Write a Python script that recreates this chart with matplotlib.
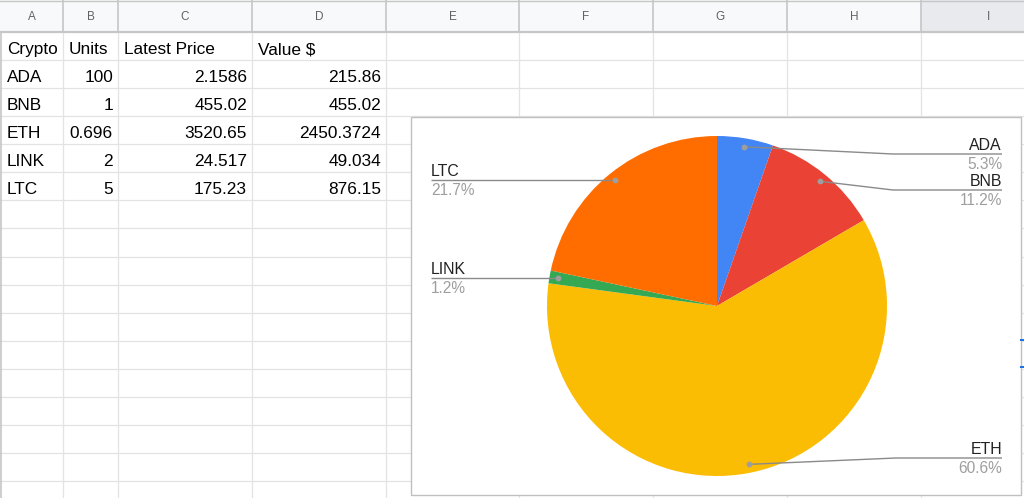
import numpy as np
import matplotlib
matplotlib.use("Agg")
import matplotlib.pyplot as plt
from matplotlib.patches import Rectangle

plt.rcParams['font.family'] = ['Liberation Sans', 'DejaVu Sans']

# sheet data
headers = ["Crypto", "Units", "Latest Price", "Value $"]
cryptos = ["ADA", "BNB", "ETH", "LINK", "LTC"]
units = ["100", "1", "0.696", "2", "5"]
prices = ["2.1586", "455.02", "3520.65", "24.517", "175.23"]
values = [215.86, 455.02, 2450.3724, 49.034, 876.15]
col_letters = ["A", "B", "C", "D", "E", "F", "G", "H", "I"]
pie_colors = ["#4285f4", "#ea4335", "#fbbc04", "#34a853", "#ff6d01"]

# layout (pixels)
col_edges = [1, 63, 118, 252, 386, 519, 653, 787, 921, 1055]
header_h = 32
row_h = 28.07
W, H = 1024, 498

fig = plt.figure(figsize=(W / 100, H / 100), dpi=100)
ax = fig.add_axes([0, 0, 1, 1])

# header row
ax.add_patch(Rectangle((0, 0), W, header_h, facecolor="#f8f9fa", edgecolor="none", zorder=1))
ax.add_patch(Rectangle((col_edges[8], 0), W - col_edges[8], header_h, facecolor="#e8eaed",
                       edgecolor="none", zorder=1))
for i, letter in enumerate(col_letters):
    xc = (col_edges[i] + min(col_edges[i + 1], W + 130)) / 2
    ax.text(xc, 16.5, letter, ha="center", va="center", fontsize=8.5, color="#5f6368", zorder=3)
for x in col_edges[1:]:
    ax.plot([x, x], [0, header_h], color="#c4c7c5", lw=1.2, zorder=2)
ax.plot([0, W], [header_h, header_h], color="#c4c7c5", lw=1.6, zorder=2)
ax.plot([0, W], [0.5, 0.5], color="#c4c7c5", lw=1.0, zorder=2)

# cell grid
row_lines = header_h + row_h * np.arange(1, 18)
for y in row_lines:
    ax.plot([0, W], [y, y], color="#e2e3e3", lw=0.9, zorder=1)
for x in col_edges[1:]:
    ax.plot([x, x], [header_h, H], color="#e2e3e3", lw=0.9, zorder=1)
ax.plot([1, 1], [header_h, H], color="#c4c7c5", lw=1.2, zorder=2)

# cell text
cell_fs = 12.4
text_cols = [cryptos, units, prices, [f"{v}" for v in values]]
for j, h in enumerate(headers):
    ax.text(col_edges[j] + 6, header_h + row_h - 6, h, ha="left", va="baseline",
            fontsize=cell_fs, color="#000000", zorder=3)
for i in range(len(cryptos)):
    base = header_h + row_h * (i + 2) - 6
    ax.text(col_edges[0] + 6, base, text_cols[0][i], ha="left", va="baseline",
            fontsize=cell_fs, color="#000000", zorder=3)
    for j in range(1, 4):
        ax.text(col_edges[j + 1] - 5, base, text_cols[j][i], ha="right", va="baseline",
                fontsize=cell_fs, color="#000000", zorder=3)

# chart box
ax.add_patch(Rectangle((411, 116.5), 610, 378, facecolor="white", edgecolor="#c0c0c0",
                       lw=1.0, zorder=4))

# pie (y axis is inverted, so counterclock in data = clockwise on screen)
cx, cy, R = 717, 306, 170
wedges, _ = ax.pie(values, colors=pie_colors, center=(cx, cy), radius=R, startangle=-90,
                   counterclock=True, wedgeprops=dict(linewidth=0), frame=True)
for w in wedges:
    w.set_zorder(5)

total = sum(values)
# label anchors: bend point for right-hand labels, None for left-hand ones
label_bend = {"ADA": (893, 154), "BNB": (893, 190), "ETH": (896, 458), "LINK": None, "LTC": None}
for w, name, v in zip(wedges, cryptos, values):
    mid = np.deg2rad((w.theta1 + w.theta2) / 2)
    dx = cx + 0.95 * R * np.cos(mid)
    dy = cy + 0.95 * R * np.sin(mid)
    pct = f"{v / total * 100:.1f}%"
    bend = label_bend[name]
    if bend is not None:
        xs = [dx, bend[0], 1002]
        ys = [dy, bend[1], bend[1]]
        ly, lx, ha = bend[1], 1002, "right"
    else:
        xs = [dx, 431]
        ys = [dy, dy]
        ly, lx, ha = dy, 431, "left"
    ax.plot(xs, ys, color="#8a8a8a", lw=1.0, zorder=6, solid_capstyle="butt")
    ax.plot([dx], [dy], "o", color="#9e9e9e", ms=4.2, mec="none", zorder=7)
    ax.text(lx, ly - 4, name, ha=ha, va="baseline", fontsize=11.4, color="#222222", zorder=7)
    ax.text(lx, ly + 3, pct, ha=ha, va="top", fontsize=11.2, color="#9e9e9e", zorder=7)

# selection marks on right edge
for y in [340, 367]:
    ax.add_patch(Rectangle((1020, y - 1), 4, 2.2, facecolor="#1a73e8", edgecolor="none", zorder=8))

ax.set_xlim(0, W)
ax.set_ylim(H, 0)
ax.set_aspect("auto")
ax.axis("off")

fig.savefig("out.png", dpi=100, facecolor="white")
